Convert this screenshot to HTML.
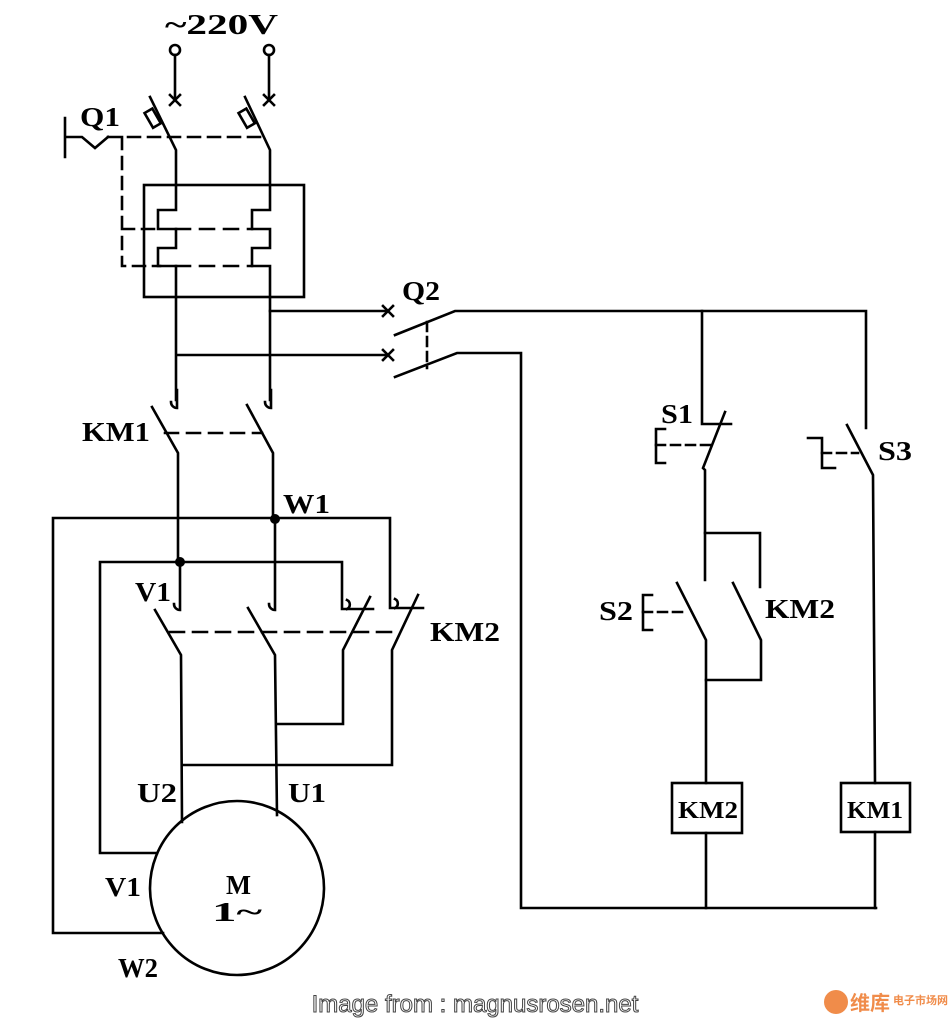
<!DOCTYPE html>
<html><head><meta charset="utf-8"><style>
html,body{margin:0;padding:0;background:#fff;}
svg{display:block;}
text{font-family:"Liberation Serif",serif;font-weight:bold;fill:#000;}
</style></head><body>
<svg width="950" height="1025" viewBox="0 0 950 1025" xmlns="http://www.w3.org/2000/svg">
<g stroke="#000" stroke-width="2.6" fill="none" stroke-linecap="square">
<circle cx="175" cy="50" r="5"/><circle cx="269" cy="50" r="5"/>
<line x1="175" y1="55" x2="175" y2="100"/><line x1="269" y1="55" x2="269" y2="100"/>
<path d="M170 95 L180 105 M180 95 L170 105 M264 95 L274 105 M274 95 L264 105"/>
<path d="M150 97 L176 150 L176 185"/><path d="M245 97 L270 150 L270 185"/>
<rect x="148" y="110" width="9" height="17" transform="rotate(-30 152 118)"/>
<rect x="242" y="110" width="9" height="17" transform="rotate(-30 246 118)"/>
<path d="M65 118 L65 157 M65 137 L82 137 L95 148 L108 137"/>
<path d="M108 137 L263 137 M122 137 L122 266 L160 266 M122 229 L158 229" stroke-dasharray="12 8"/>
<rect x="144" y="185" width="160" height="112"/>
<path d="M176 185 L176 210 L158 210 L158 229 L176 229 L176 248 L158 248 L158 266 L176 266 L176 400"/>
<path d="M270 185 L270 210 L252 210 L252 229 L270 229 L270 248 L252 248 L252 266 L270 266 L270 400"/>
<path d="M176 229 L252 229 M176 266 L252 266" stroke-dasharray="14 10"/>
<path d="M270 311 L388 311 M177 355 L388 355"/>
<path d="M383 306 L393 316 M393 306 L383 316 M383 350 L393 360 M393 350 L383 360"/>
<path d="M395 335 L455 311 L866 311 L866 428"/>
<path d="M395 377 L457 353 L521 353 L521 908 L876 908"/>
<line x1="427" y1="322" x2="427" y2="368" stroke-dasharray="9 6"/>
<path d="M177 390 L177 408 M171 402 a6 6 0 0 0 6 6"/><path d="M271 390 L271 408 M265 402 a6 6 0 0 0 6 6"/>
<path d="M152 407 L178 453 L178 562"/><path d="M247 405 L273 453 L273 518"/>
<line x1="165" y1="433" x2="262" y2="433" stroke-dasharray="13 9"/>
<path d="M275 518 L53 518 L53 933 L163 933"/>
<path d="M275 518 L390 518 L390 608 L423 608"/>
<path d="M180 562 L100 562 L100 853 L157 853"/>
<path d="M180 562 L342 562 L342 609 L373 609"/>
<path d="M180 562 L180 610 M174 604 a6 6 0 0 0 6 6"/>
<path d="M275 518 L275 610 M269 604 a6 6 0 0 0 6 6"/>
<path d="M155 610 L181 655 L182 822"/>
<path d="M248 608 L275 655 L277 815"/>
<path d="M370 597 L343 650 L343 724 L277 724"/>
<path d="M418 595 L392 650 L392 765 L182 765"/>
<path d="M347 600 a5 5 0 0 1 0 9 M395 599 a5 5 0 0 1 0 9"/>
<line x1="170" y1="632" x2="400" y2="632" stroke-dasharray="14 9"/>
<circle cx="237" cy="888" r="87"/>
<path d="M702 311 L702 424 L731 424"/>
<path d="M725 412 L703 468 L705 470 L705 580"/>
<path d="M656 429 L656 463 M656 429 L665 429 M656 463 L665 463"/>
<line x1="656" y1="445" x2="713" y2="445" stroke-dasharray="9 6"/>
<path d="M847 425 L873 475 L875 783"/>
<path d="M808 438 L822 438 L822 468 L835 468"/>
<line x1="822" y1="453" x2="858" y2="453" stroke-dasharray="9 6"/>
<path d="M705 533 L760 533 L760 587"/>
<path d="M677 583 L706 640 L706 783"/>
<path d="M733 583 L761 640 L761 680 L706 680"/>
<path d="M643 595 L643 630 M643 595 L652 595 M643 630 L652 630"/>
<line x1="643" y1="612" x2="685" y2="612" stroke-dasharray="9 6"/>
<rect x="672" y="783" width="70" height="50"/>
<rect x="841" y="783" width="69" height="49"/>
<path d="M706 833 L706 908 M875 832 L875 908"/>
</g>
<g fill="#000"><circle cx="275" cy="519" r="5"/><circle cx="180" cy="562" r="5"/></g>
<text x="165" y="34" font-size="29" textLength="113" lengthAdjust="spacingAndGlyphs">~220V</text>
<text x="80" y="126" font-size="27" textLength="40" lengthAdjust="spacingAndGlyphs">Q1</text>
<text x="402" y="300" font-size="27" textLength="38" lengthAdjust="spacingAndGlyphs">Q2</text>
<text x="82" y="441" font-size="27" textLength="68" lengthAdjust="spacingAndGlyphs">KM1</text>
<text x="283" y="513" font-size="27" textLength="47" lengthAdjust="spacingAndGlyphs">W1</text>
<text x="135" y="601" font-size="27" textLength="36" lengthAdjust="spacingAndGlyphs">V1</text>
<text x="430" y="641" font-size="27" textLength="70" lengthAdjust="spacingAndGlyphs">KM2</text>
<text x="137" y="802" font-size="27" textLength="40" lengthAdjust="spacingAndGlyphs">U2</text>
<text x="288" y="802" font-size="27" textLength="38" lengthAdjust="spacingAndGlyphs">U1</text>
<text x="105" y="896" font-size="27" textLength="36" lengthAdjust="spacingAndGlyphs">V1</text>
<text x="118" y="977" font-size="27" textLength="40" lengthAdjust="spacingAndGlyphs">W2</text>
<text x="226" y="894" font-size="27" textLength="25" lengthAdjust="spacingAndGlyphs">M</text>
<text x="212" y="921" font-size="27" textLength="50" lengthAdjust="spacingAndGlyphs">1~</text>
<text x="661" y="423" font-size="27" textLength="32" lengthAdjust="spacingAndGlyphs">S1</text>
<text x="878" y="460" font-size="27" textLength="34" lengthAdjust="spacingAndGlyphs">S3</text>
<text x="599" y="620" font-size="27" textLength="34" lengthAdjust="spacingAndGlyphs">S2</text>
<text x="765" y="618" font-size="27" textLength="70" lengthAdjust="spacingAndGlyphs">KM2</text>
<text x="678" y="818" font-size="24" textLength="60" lengthAdjust="spacingAndGlyphs">KM2</text>
<text x="847" y="818" font-size="24" textLength="56" lengthAdjust="spacingAndGlyphs">KM1</text>
<text x="475" y="1012" font-size="24" text-anchor="middle" style="font-family:'Liberation Sans',sans-serif;font-weight:normal;fill:#fff;stroke:#444;stroke-width:1">Image from : magnusrosen.net</text>
<circle cx="836" cy="1002" r="12" fill="#f08c4a"/>
<text x="850" y="1010" font-size="20" style="font-family:'Liberation Sans','Noto Sans CJK SC',sans-serif;fill:#f08c4a">维库</text>
<text x="893" y="1004" font-size="11" style="font-family:'Liberation Sans','Noto Sans CJK SC',sans-serif;fill:#f08c4a">电子市场网</text>
</svg>
</body></html>
